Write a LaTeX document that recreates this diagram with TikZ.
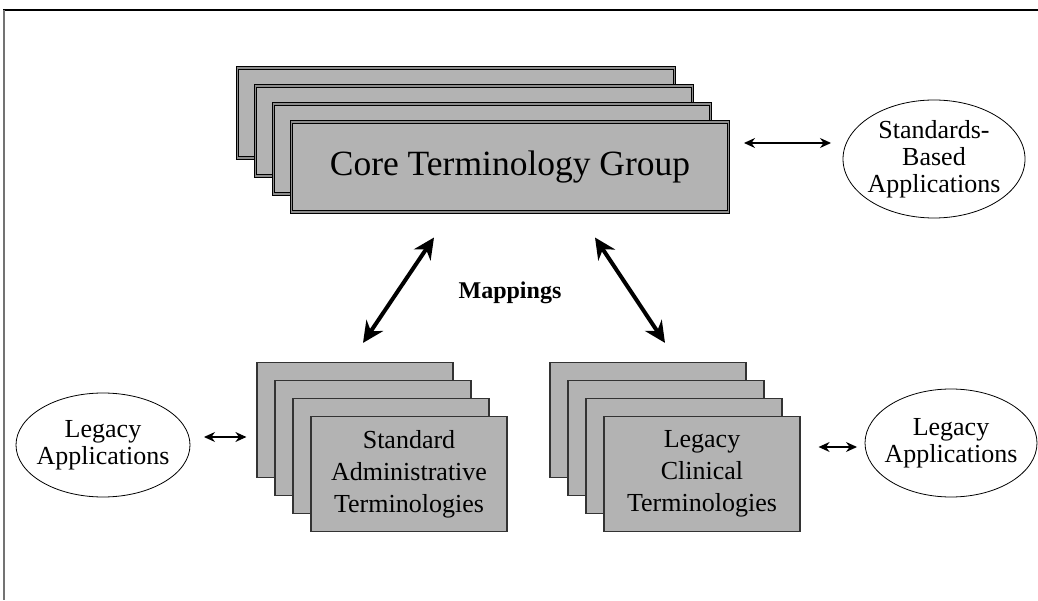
\documentclass[tikz,border=0pt]{standalone}
\usepackage{fontspec}
\setmainfont{Liberation Serif}
\usetikzlibrary{arrows.meta, shapes.geometric, positioning}
\definecolor{boxgray}{RGB}{179,179,179}

\begin{document}
\begin{tikzpicture}[x=1pt, y=1pt,
	corebox/.style={draw=black, fill=boxgray, line width=1pt, double=black!45, double distance=1.2pt,
		minimum width=437pt, minimum height=90pt, inner sep=0pt, font=\fontsize{35.5}{40}\selectfont},
	termbox/.style={draw=black!80, fill=boxgray, line width=1.2pt, minimum width=196pt, minimum height=115pt,
		inner sep=0pt, align=center, font=\fontsize{26}{32}\selectfont},
	app/.style={inner sep=0pt, align=center, font=\fontsize{26}{27}\selectfont},
	ring/.style={draw, line width=0.8pt},
	link/.style={{Stealth[length=11pt,width=10pt]}-{Stealth[length=11pt,width=10pt]}, line width=1.2pt},
	mapping/.style={{Stealth[length=21pt,width=20pt]}-{Stealth[length=21pt,width=20pt]}, line width=4pt}]
	
	\useasboundingbox (0,0) rectangle (1038,600);
	
	% Frame (top and left edges only)
	\draw[line width=1.2pt] (3,590) -- (1038,590);
	\draw[black!55, line width=1.5pt] (4,590) -- (4,0);
	
	% Core terminology stack
	\foreach \k in {1,2,3}
		\node[corebox] (core\k) at ({456+18*(\k-1)},{487-18*(\k-1)}) {};
	\node[corebox] (core4) at (510,433) {Core Terminology Group};
	
	% Standards-based applications
	\node[app] (stdapps) at (934,441) {Standards-\\Based\\Applications};
	\draw[ring] (stdapps) ellipse [x radius=91, y radius=59];
	\draw[link] ([xshift=15pt,yshift=24pt]core4.east) -- ([xshift=-103pt,yshift=16pt]stdapps.center);
	
	% Standard administrative terminologies
	\foreach \k in {1,2,3}
		\node[termbox] (admin\k) at ({355+18*(\k-1)},{180-18*(\k-1)}) {};
	\node[termbox] (admin4) at (409,126) {Standard\\Administrative\\Terminologies};
	
	% Legacy clinical terminologies
	\foreach \k in {1,2,3}
		\node[termbox] (clin\k) at ({648+18*(\k-1)},{180-18*(\k-1)}) {};
	\node[termbox] (clin4) at (702,126) {Legacy\\Clinical\\Terminologies};
	
	% Legacy applications on both sides
	\node[app] (legleft) at (103,155) {Legacy\\Applications};
	\draw[ring] (legleft) ellipse [x radius=87, y radius=52];
	\node[app] (legright) at (951,157) {Legacy\\Applications};
	\draw[ring] (legright) ellipse [x radius=86, y radius=54];
	\draw[link] ([xshift=101pt,yshift=8pt]legleft.center) -- ([xshift=-10pt,yshift=-17pt]admin1.west);
	\draw[link] ([xshift=18pt,yshift=27pt]clin4.east) -- ([xshift=-94pt,yshift=-4pt]legright.center);
	
	% Mappings
	\node[font=\fontsize{24}{26}\selectfont\bfseries] (maplabel) at (510,307) {Mappings};
	\draw[mapping] ([xshift=8pt,yshift=19pt]admin1.north) -- ([xshift=-76pt,yshift=-25pt]core4.south);
	\draw[mapping] ([xshift=85pt,yshift=-25pt]core4.south) -- ([xshift=17pt,yshift=19pt]clin1.north);
	
\end{tikzpicture}
\end{document}
